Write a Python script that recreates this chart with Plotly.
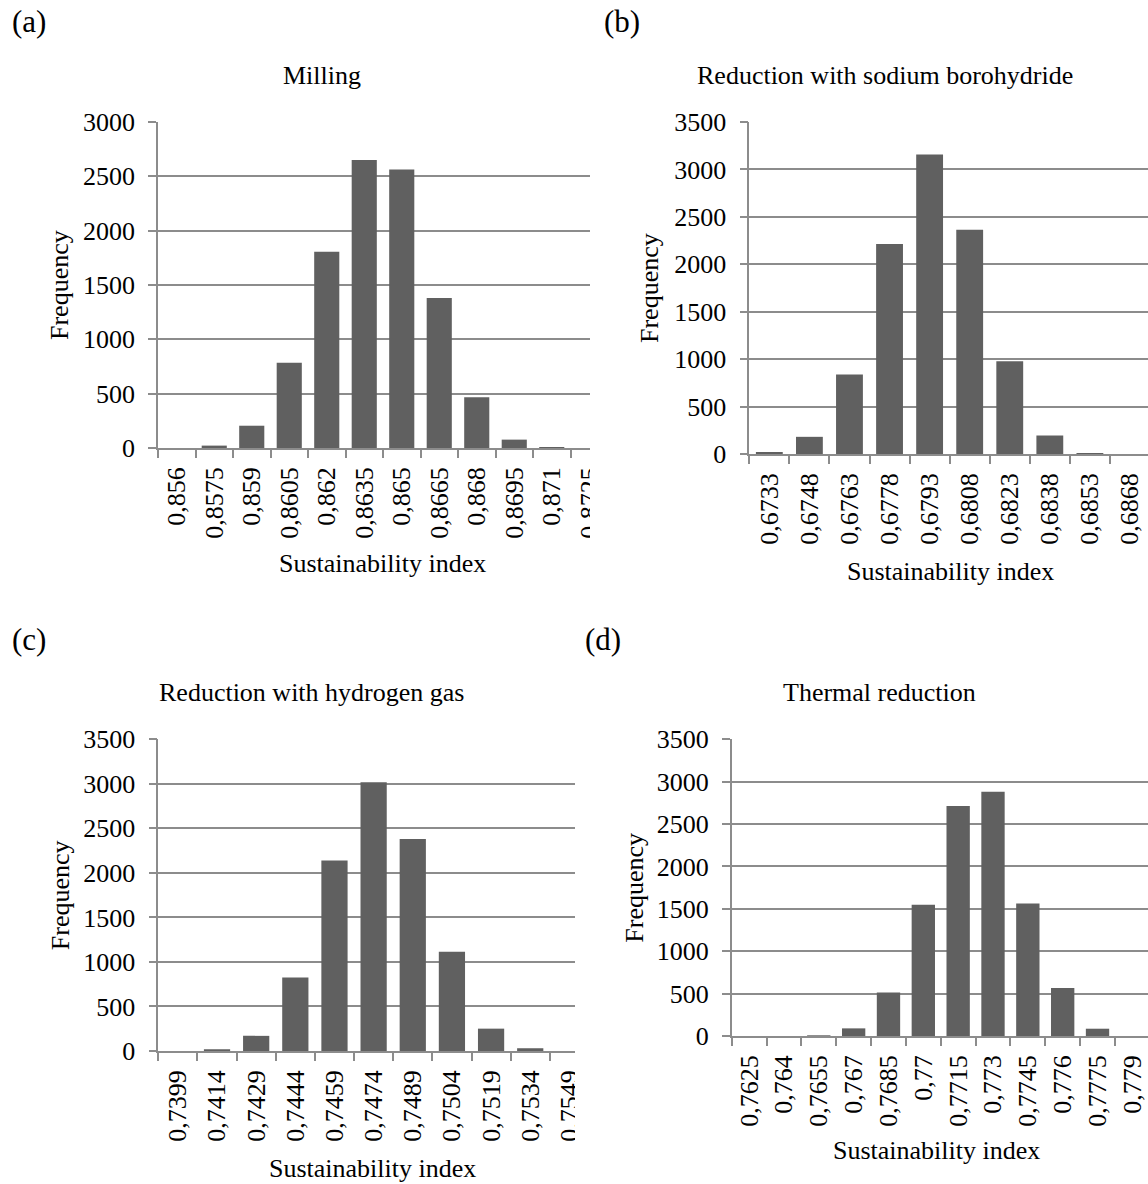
import plotly.graph_objects as go

W, H = 1148, 1184

# Histogram bins (tick labels) and frequencies for each process
milling_bins = ["0,856", "0,8575", "0,859", "0,8605", "0,862", "0,8635",
                "0,865", "0,8665", "0,868", "0,8695", "0,871", "0,8725"]
milling_freq = [0, 22, 205, 785, 1805, 2650, 2562, 1380, 468, 77, 8, 0]

borohydride_bins = ["0,6733", "0,6748", "0,6763", "0,6778", "0,6793",
                    "0,6808", "0,6823", "0,6838", "0,6853", "0,6868"]
borohydride_freq = [17, 181, 837, 2213, 3158, 2363, 979, 195, 5, 0]

hydrogen_bins = ["0,7399", "0,7414", "0,7429", "0,7444", "0,7459", "0,7474",
                 "0,7489", "0,7504", "0,7519", "0,7534", "0,7549"]
hydrogen_freq = [0, 12, 170, 826, 2138, 3018, 2381, 1115, 251, 31, 0]

thermal_bins = ["0,7625", "0,764", "0,7655", "0,767", "0,7685", "0,77",
                "0,7715", "0,773", "0,7745", "0,776", "0,7775", "0,779"]
thermal_freq = [0, 0, 2, 90, 512, 1547, 2714, 2882, 1564, 565, 86, 0]

panel_tags = ["(a)", "(b)", "(c)", "(d)"]
panel_titles = ["Milling", "Reduction with sodium borohydride",
                "Reduction with hydrogen gas", "Thermal reduction"]
y_maxima = [3000, 3500, 3500, 3500]
x_label = "Sustainability index"
y_label = "Frequency"

FONT = "Liberation Serif, Times New Roman, serif"
BAR = "#606060"
GRID = "#8c8c8c"


def fx(px):
    return px / W


def fy(py):
    return 1 - py / H


# Plot-area geometry in pixels: left, right, top, bottom, category width
geom = [
    dict(l=158.0, r=590.0, t=122.0, b=448.0, cw=37.5),
    dict(l=749.3, r=1148.0, t=122.0, b=454.0, cw=40.07),
    dict(l=158.3, r=575.0, t=739.3, b=1051.0, cw=39.15),
    dict(l=731.7, r=1148.0, t=739.3, b=1036.0, cw=34.84),
]
# Text placement in pixels
tag_pos = [(10, 22), (602, 22), (10, 639), (583, 639)]
title_pos = [(322, 75), (885, 75), (311, 692), (879.5, 692)]
xtitle_pos = [(382, 563), (950.5, 571), (372, 1168), (936, 1150)]
ytitle_x = [60, 650, 60, 635]

data = [(milling_bins, milling_freq), (borohydride_bins, borohydride_freq),
        (hydrogen_bins, hydrogen_freq), (thermal_bins, thermal_freq)]

fig = go.Figure()
annotations = []
layout_axes = {}


def note(text, x, y, size=26, xanchor="center", angle=0):
    return dict(text=text, x=fx(x), y=fy(y), xref="paper", yref="paper",
                xanchor=xanchor, yanchor="middle", textangle=angle,
                showarrow=False, font=dict(family=FONT, size=size, color="black"))


for i, ((bins, freq), g) in enumerate(zip(data, geom)):
    n = i + 1
    xa = "x" if n == 1 else f"x{n}"
    ya = "y" if n == 1 else f"y{n}"
    fig.add_trace(go.Bar(x=bins, y=freq, xaxis=xa, yaxis=ya,
                         marker=dict(color=BAR, line=dict(width=0)),
                         showlegend=False))
    span = (g["r"] - g["l"]) / g["cw"]
    layout_axes[f"xaxis{'' if n == 1 else n}"] = dict(
        domain=[fx(g["l"]), fx(g["r"])], anchor=ya, type="category",
        categoryorder="array", categoryarray=bins,
        range=[-0.5, -0.5 + span], tickangle=-90, automargin=False,
        showgrid=False, zeroline=False,
        showline=True, linecolor=GRID, linewidth=1.5,
        ticks="outside", tickson="boundaries", ticklen=8,
        tickcolor=GRID, tickwidth=1.5,
        tickfont=dict(family=FONT, size=26, color="black"),
        ticklabelstandoff=7, fixedrange=True)
    layout_axes[f"yaxis{'' if n == 1 else n}"] = dict(
        domain=[fy(g["b"]), fy(g["t"])], anchor=xa, automargin=False,
        range=[0, y_maxima[i]], dtick=500, tick0=0,
        showgrid=True, gridcolor=GRID, gridwidth=1.5, zeroline=False,
        showline=True, linecolor=GRID, linewidth=1.5,
        ticks="outside", ticklen=8, tickcolor=GRID, tickwidth=1.5,
        tickfont=dict(family=FONT, size=26, color="black"),
        ticklabelstandoff=8, fixedrange=True)

    annotations.append(note(panel_tags[i], tag_pos[i][0], tag_pos[i][1],
                            size=31, xanchor="left"))
    annotations.append(note(panel_titles[i], *title_pos[i]))
    annotations.append(note(x_label, *xtitle_pos[i]))
    annotations.append(note(y_label, ytitle_x[i], (g["t"] + g["b"]) / 2, angle=-90))

# Left-hand charts are cut off where the right-hand column begins
shapes = [
    dict(type="rect", xref="paper", yref="paper", layer="above",
         x0=fx(590), x1=fx(650), y0=fy(600), y1=fy(90),
         fillcolor="white", line=dict(width=0)),
    dict(type="rect", xref="paper", yref="paper", layer="above",
         x0=fx(575), x1=fx(650), y0=fy(1184), y1=fy(700),
         fillcolor="white", line=dict(width=0)),
]

fig.update_layout(
    template="none",
    width=W, height=H, margin=dict(l=0, r=0, t=0, b=0, pad=0, autoexpand=False),
    paper_bgcolor="white", plot_bgcolor="white",
    bargap=0.33, showlegend=False,
    font=dict(family=FONT, size=26, color="black"),
    annotations=annotations, shapes=shapes,
    **layout_axes,
)

fig.write_html("out.html")
